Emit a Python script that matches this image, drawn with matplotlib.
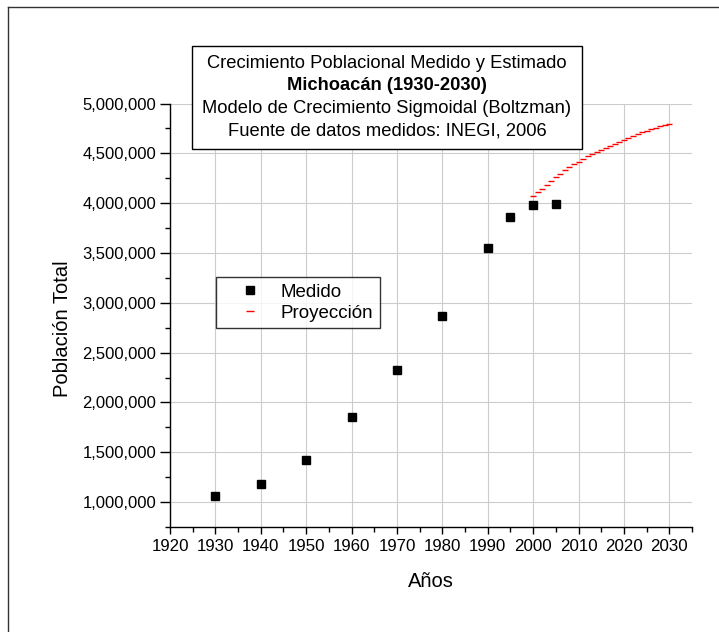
import matplotlib
matplotlib.use('Agg')
import matplotlib.pyplot as plt
from matplotlib.ticker import MultipleLocator, FuncFormatter
from matplotlib.lines import Line2D
from matplotlib.patches import Rectangle

plt.rcParams['font.family'] = ['Liberation Sans', 'DejaVu Sans']

# datos medidos (INEGI)
years_measured = [1930, 1940, 1950, 1960, 1970, 1980, 1990, 1995, 2000, 2005]
pop_measured = [1060000, 1181000, 1423000, 1851000, 2322000, 2865000,
                3545000, 3865000, 3985000, 3990000]

# proyeccion (Boltzman)
years_proj = list(range(2000, 2031))
pop_proj = [4067000, 4110000, 4146000, 4186000, 4226000, 4263000, 4296000,
            4330000, 4360000, 4390000, 4416000, 4443000, 4470000, 4493000,
            4515000, 4535000, 4555000, 4575000, 4595000, 4615000, 4635000,
            4655000, 4675000, 4690000, 4710000, 4725000, 4740000, 4755000,
            4770000, 4783000, 4796000]

title_lines = ['Crecimiento Poblacional Medido y Estimado',
               'Michoacán (1930-2030)',
               'Modelo de Crecimiento Sigmoidal (Boltzman)',
               'Fuente de datos medidos: INEGI, 2006']

W, H = 719, 632
fig = plt.figure(figsize=(W / 100, H / 100), dpi=100)
ax = fig.add_axes([170 / W, 1 - 527 / H, 522 / W, (527 - 103.5) / H])

ax.plot(years_proj, pop_proj, linestyle='none', marker='_', color='red',
        markersize=4.6, markeredgewidth=1.0, label='Proyección', zorder=3)
ax.plot(years_measured, pop_measured, linestyle='none', marker='s',
        color='black', markersize=5.5, label='Medido', zorder=4)

ax.set_xlim(1920, 2035)
ax.set_ylim(750000, 5000000)
ax.xaxis.set_major_locator(MultipleLocator(10))
ax.xaxis.set_minor_locator(MultipleLocator(5))
ax.yaxis.set_major_locator(MultipleLocator(500000))
ax.yaxis.set_minor_locator(MultipleLocator(250000))
ax.yaxis.set_major_formatter(FuncFormatter(lambda v, p: f'{int(v):,}'))

ax.spines['top'].set_visible(False)
ax.spines['right'].set_visible(False)
for s in ['left', 'bottom']:
    ax.spines[s].set_linewidth(1.0)

ax.tick_params(axis='y', which='major', length=7, width=1.0, labelsize=12, pad=3)
ax.tick_params(axis='y', which='minor', length=3.6, width=1.0)
ax.tick_params(axis='x', which='major', length=5, width=1.0, labelsize=12.2, pad=3.5)
ax.tick_params(axis='x', which='minor', length=3.6, width=1.0)

ax.grid(True, which='major', color='#cccccc', linewidth=0.8)
ax.set_axisbelow(True)

ax.set_xlabel('Años', fontsize=14.5)
ax.set_ylabel('Población Total', fontsize=14.5)
ax.xaxis.set_label_coords(0.5, (527 - 572) / 423.5)
ax.yaxis.set_label_coords((72 - 170) / 522, (527 - 329) / 423.5)

handles = [Line2D([], [], linestyle='none', marker='s', color='black', markersize=5.5),
           Line2D([], [], linestyle='none', marker='_', color='red',
                  markersize=6, markeredgewidth=1.0)]
leg = ax.legend(handles, ['Medido', 'Proyección'], loc='upper left',
                bbox_to_anchor=(216 / W, 1 - 277 / H),
                bbox_transform=fig.transFigure, borderaxespad=0,
                fontsize=13.5, fancybox=False, frameon=True, handlelength=2.9,
                handletextpad=0.2, borderpad=0.35, labelspacing=0.2)
leg.get_frame().set_edgecolor('black')
leg.get_frame().set_linewidth(1.0)

# caja del titulo
fig.patches.append(Rectangle((192 / W, 1 - 149 / H), 390 / W, 103 / H,
                             transform=fig.transFigure, facecolor='white',
                             edgecolor='black', linewidth=1.0, zorder=5))
line_y = [63, 85.5, 108.5, 131]
for i, (txt, yy) in enumerate(zip(title_lines, line_y)):
    fig.text(387 / W, 1 - yy / H, txt, ha='center', va='center',
             fontsize=13.2, fontweight='bold' if i == 1 else 'normal', zorder=6)

# marco exterior
fig.add_artist(Line2D([8 / W, 8 / W], [0, 1 - 7 / H], color='#333333', linewidth=1.0))
fig.add_artist(Line2D([8 / W, 1], [1 - 7 / H, 1 - 7 / H], color='#333333', linewidth=1.0))

fig.canvas.draw()
ax.yaxis.get_major_ticks()[-1].gridline.set_visible(False)

fig.savefig('out.png', dpi=100)
